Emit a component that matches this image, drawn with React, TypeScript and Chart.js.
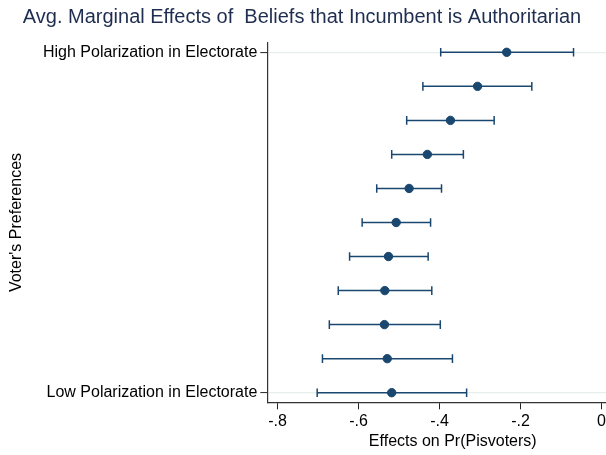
import React, { useEffect, useRef } from "react";
import { Chart, registerables } from "chart.js";

Chart.register(...registerables);

const rowLabels = [
  "High Polarization in Electorate",
  "", "", "", "", "", "", "", "", "",
  "Low Polarization in Electorate",
];
const estimates = [-0.234, -0.306, -0.373, -0.43, -0.475, -0.507, -0.526, -0.535, -0.536, -0.529, -0.518];
const lowerCI = [-0.397, -0.441, -0.481, -0.518, -0.555, -0.591, -0.622, -0.65, -0.672, -0.689, -0.702];
const upperCI = [-0.069, -0.172, -0.265, -0.341, -0.395, -0.422, -0.428, -0.419, -0.398, -0.368, -0.333];
const xTicks = [-0.8, -0.6, -0.4, -0.2, 0];
const yTickRows = [0, 10];

const FONT = "'Liberation Sans', Arial, Helvetica, sans-serif";
const NAVY = "#1a476f";

function fmt(v: number): string {
  if (Math.abs(v) < 1e-9) return "0";
  const s = v.toFixed(1);
  return s.replace("0.", ".");
}

export default function App() {
  const ref = useRef<HTMLCanvasElement | null>(null);

  useEffect(() => {
    document.body.style.margin = "0";
    const canvas = ref.current;
    if (!canvas) return;

    const ciSets = estimates.map((_, i) => ({
      type: "line" as const,
      data: [
        { x: lowerCI[i], y: i },
        { x: upperCI[i], y: i },
      ],
      borderColor: NAVY,
      borderWidth: 1.5,
      pointStyle: "line" as const,
      rotation: 90,
      pointRadius: 4.3,
      pointBorderWidth: 1.5,
      pointBorderColor: NAVY,
      pointBackgroundColor: NAVY,
      showLine: true,
      order: 2,
    }));

    const chart = new Chart(canvas, {
      type: "scatter",
      data: {
        datasets: [
          {
            type: "scatter",
            data: estimates.map((v, i) => ({ x: v, y: i })),
            backgroundColor: NAVY,
            borderColor: NAVY,
            borderWidth: 1,
            pointRadius: 4.2,
            order: 0,
          } as any,
          ...ciSets,
        ],
      },
      options: {
        animation: false,
        responsive: false,
        layout: { padding: { left: 3, right: 3, top: 0, bottom: 0 } },
        plugins: {
          legend: { display: false },
          tooltip: { enabled: false },
          title: {
            display: true,
            text: "Avg. Marginal Effects of  Beliefs that Incumbent is Authoritarian",
            color: "#1e2d50",
            font: { family: FONT, size: 20, weight: "normal" },
            padding: { top: 5, bottom: 13.7 },
          },
        },
        scales: {
          x: {
            type: "linear",
            min: -0.8252,
            max: 0.0907,
            afterBuildTicks: (s: any) => {
              s.ticks = xTicks.map((v) => ({ value: v }));
            },
            afterFit: (s: any) => {
              s.height = 52.7;
              s.paddingLeft = 0;
              s.paddingRight = 0;
            },
            ticks: {
              callback: (v: any) => fmt(Number(v)),
              color: "#000",
              font: { family: FONT, size: 16 },
              padding: 2.6,
              maxRotation: 0,
              autoSkip: false,
            },
            grid: {
              drawOnChartArea: false,
              drawTicks: true,
              tickLength: 7,
              tickColor: "#222",
              tickWidth: 1,
            },
            border: { display: true, color: "#333", width: 1.2 },
            title: {
              display: true,
              text: "Effects on Pr(Pisvoters)",
              color: "#000",
              font: { family: FONT, size: 16 },
              padding: { top: 0, bottom: 3.7 },
            },
          },
          y: {
            type: "linear",
            reverse: true,
            min: -0.282,
            max: 10.282,
            afterBuildTicks: (s: any) => {
              s.ticks = yTickRows.map((v) => ({ value: v }));
            },
            afterFit: (s: any) => {
              s.width = 304.3;
              s.paddingTop = 0;
              s.paddingBottom = 0;
            },
            ticks: {
              callback: (v: any) => rowLabels[Math.round(Number(v))] ?? "",
              color: "#000",
              font: { family: FONT, size: 16 },
              padding: 3,
              autoSkip: false,
            },
            grid: {
              drawOnChartArea: true,
              drawTicks: true,
              tickLength: 7,
              color: "#e6eeee",
              lineWidth: 1.2,
              tickColor: "#222",
              tickWidth: 1,
            },
            border: { display: true, color: "#333", width: 1.2 },
            title: {
              display: true,
              text: "Voter's Preferences",
              color: "#000",
              font: { family: FONT, size: 16 },
              padding: { top: 44, bottom: 0 },
            },
          },
        },
      } as any,
    });

    return () => chart.destroy();
  }, []);

  return (
    <div
      style={{
        position: "fixed",
        left: 0,
        top: 0,
        width: 606,
        height: 455,
        overflow: "hidden",
        background: "#fff",
      }}
    >
      <canvas
        ref={ref}
        width={684}
        height={455}
        style={{ position: "absolute", left: -40, top: 0, width: 684, height: 455 }}
      />
    </div>
  );
}
